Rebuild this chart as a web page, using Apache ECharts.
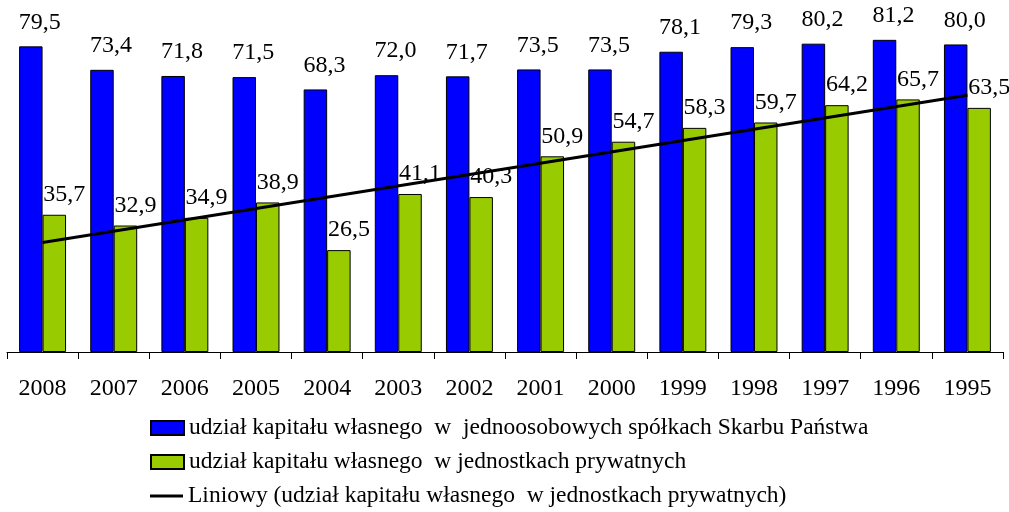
<!DOCTYPE html>
<html>
<head>
<meta charset="utf-8">
<script src="https://cdn.jsdelivr.net/npm/echarts@6/dist/echarts.min.js"></script>
<style>
  html, body { margin: 0; padding: 0; background: #fff; }
  #chart { width: 1009px; height: 512px; }
</style>
</head>
<body>
<div id="chart"></div>
<script>
const years = ['2008', '2007', '2006', '2005', '2004', '2003', '2002', '2001', '2000', '1999', '1998', '1997', '1996', '1995'];
const stateShare = [79.5, 73.4, 71.8, 71.5, 68.3, 72.0, 71.7, 73.5, 73.5, 78.1, 79.3, 80.2, 81.2, 80.0];
const privateShare = [35.7, 32.9, 34.9, 38.9, 26.5, 41.1, 40.3, 50.9, 54.7, 58.3, 59.7, 64.2, 65.7, 63.5];
// trend end points (Excel linear trendline)
const trendStart = 28.5;
const trendEnd = 66.8;

const nameState = 'udział kapitału własnego  w  jednoosobowych spółkach Skarbu Państwa';
const namePrivate = 'udział kapitału własnego  w jednostkach prywatnych';
const nameTrend = 'Liniowy (udział kapitału własnego  w jednostkach prywatnych)';

const font = '"Liberation Serif", "Times New Roman", serif';
const fmt = p => p.value.toFixed(1).replace('.', ',');

const legendItem = (name, top, icon) => ({
  left: 150,
  top: top,
  itemWidth: 33,
  itemHeight: 14,
  padding: 0,
  icon: icon,
  textStyle: { fontFamily: font, fontSize: 23.5, color: '#000' },
  data: [name]
});

const chart = echarts.init(document.getElementById('chart'));
chart.setOption({
  animation: false,
  textStyle: { fontFamily: font },
  grid: { left: 7, right: 6, top: 6, bottom: 160 },
  legend: [
    legendItem(nameState, 416, 'rect'),
    legendItem(namePrivate, 450, 'rect'),
    legendItem(nameTrend, 484, 'path://M0,0H33V3H0Z')
  ],
  xAxis: {
    type: 'category',
    data: years,
    axisLine: { lineStyle: { color: '#000', width: 1 } },
    axisTick: { show: true, length: 7, lineStyle: { color: '#000' } },
    axisLabel: { color: '#000', fontFamily: font, fontSize: 24, margin: 25 }
  },
  yAxis: {
    type: 'value',
    min: 0,
    max: 90,
    show: false,
    splitLine: { show: false }
  },
  series: [
    {
      name: nameState,
      type: 'bar',
      data: stateShare,
      barGap: '0%',
      barCategoryGap: '34%',
      itemStyle: { color: '#0000ff', borderColor: '#000', borderWidth: 1 },
      label: {
        show: true,
        position: 'top',
        distance: 12,
        offset: [9, 0],
        formatter: fmt,
        color: '#000',
        fontFamily: font,
        fontSize: 24
      }
    },
    {
      name: namePrivate,
      type: 'bar',
      data: privateShare,
      itemStyle: { color: '#99cc00', borderColor: '#000', borderWidth: 1 },
      label: {
        show: true,
        position: 'top',
        distance: 8,
        offset: [10, 0],
        formatter: fmt,
        color: '#000',
        fontFamily: font,
        fontSize: 24
      }
    },
    {
      name: nameTrend,
      type: 'line',
      symbol: 'none',
      z: 5,
      data: [[years[0], trendStart], [years[years.length - 1], trendEnd]],
      lineStyle: { color: '#000', width: 3 },
      itemStyle: { color: '#000' }
    }
  ]
});
</script>
</body>
</html>
